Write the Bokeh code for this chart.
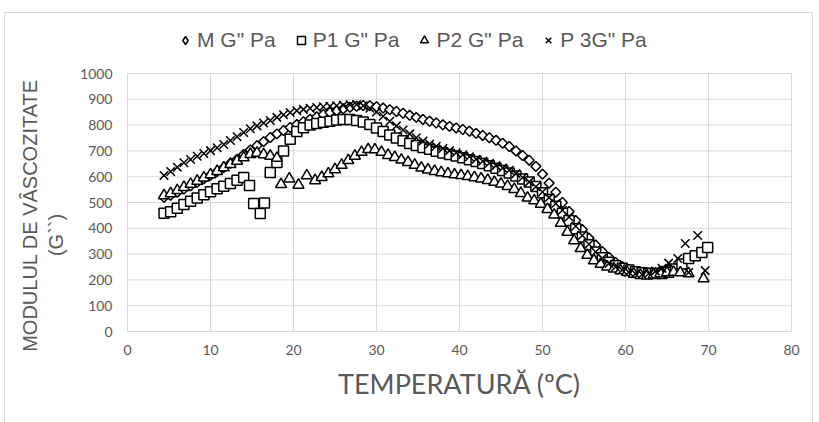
import math

from bokeh.embed import file_html
from bokeh.models import FixedTicker, Legend, LegendItem, Range1d
from bokeh.plotting import figure
from bokeh.resources import INLINE

# Loss modulus G" (Pa) against temperature (°C) for four samples
m_temp = [4.4, 5.2, 6.0, 6.8, 7.6, 8.4, 9.2, 10.0, 10.8, 11.6, 12.4, 13.2, 14.0, 14.8,
          15.6, 16.4, 17.2, 18.0, 18.8, 19.6, 20.4, 21.2, 22.0, 22.8, 23.6, 24.4, 25.2,
          26.0, 26.8, 27.6, 28.4, 29.2, 30.0, 30.8, 31.6, 32.4, 33.2, 34.0, 34.8, 35.6,
          36.4, 37.2, 38.0, 38.8, 39.6, 40.4, 41.2, 42.0, 42.8, 43.6, 44.4, 45.2, 46.0,
          46.8, 47.6, 48.4, 49.2, 50.0, 50.8, 51.6, 52.4, 53.2, 54.0, 54.8, 55.6, 56.4,
          57.2, 58.0, 58.8, 59.6, 60.4, 61.2, 62.0, 62.8, 63.6, 64.4, 65.2, 66.0]
m_g = [520, 528, 540, 552, 565, 578, 592, 606, 620, 636, 652, 668, 686, 704,
       720, 736, 752, 766, 779, 791, 802, 813, 823, 832, 841, 849, 856,
       863, 869, 873, 876, 875, 871, 866, 860, 853, 846, 838, 830, 822,
       815, 808, 801, 795, 789, 783, 776, 768, 760, 751, 741, 730, 717,
       700, 682, 664, 640, 610, 575, 540, 500, 465, 430, 395, 362, 335,
       310, 288, 268, 252, 240, 230, 224, 222, 228, 234, 240, 246]

p1_temp = [4.4, 5.2, 6.0, 6.8, 7.6, 8.4, 9.2, 10.0, 10.8, 11.6, 12.4, 13.2, 14.0, 14.7,
           15.2, 16.0, 16.5, 17.2, 18.0, 18.8, 19.6, 20.4, 21.2, 22.0, 22.8, 23.6, 24.4,
           25.2, 26.0, 26.8, 27.6, 28.4, 29.2, 30.0, 30.8, 31.6, 32.4, 33.2, 34.0, 34.8,
           35.6, 36.4, 37.2, 38.0, 38.8, 39.6, 40.4, 41.2, 42.0, 42.8, 43.6, 44.4, 45.2,
           46.0, 46.8, 47.6, 48.4, 49.2, 50.0, 50.8, 51.6, 52.4, 53.2, 54.0, 54.8, 55.6,
           56.4, 57.2, 58.0, 58.8, 59.6, 60.4, 61.2, 62.0, 62.8, 63.6, 64.4, 65.2, 66.0,
           66.8, 67.6, 68.4, 69.2, 69.9]
p1_g = [458, 464, 478, 492, 505, 517, 530, 542, 553, 563, 574, 586, 597, 566,
        496, 457, 498, 616, 655, 700, 745, 775, 790, 800, 806, 811, 815,
        820, 822, 822, 818, 812, 802, 789, 775, 762, 750, 739, 729, 721,
        713, 706, 699, 692, 686, 680, 673, 666, 659, 651, 642, 633, 624,
        614, 603, 591, 579, 562, 538, 512, 485, 458, 430, 398, 366, 336,
        308, 286, 268, 255, 245, 238, 232, 228, 226, 225, 225, 230, 242,
        262, 283, 294, 306, 326]

p2_temp = [4.4, 5.2, 6.0, 6.8, 7.6, 8.4, 9.2, 10.0, 10.8, 11.6, 12.4, 13.2, 14.0, 14.8,
           15.6, 16.4, 17.2, 18.0, 18.5, 19.5, 20.6, 21.6, 22.6, 23.4, 24.2, 25.0, 25.8,
           26.6, 27.4, 28.2, 29.0, 29.8, 30.6, 31.4, 32.2, 33.0, 33.8, 34.6, 35.4, 36.2,
           37.0, 37.8, 38.6, 39.4, 40.2, 41.0, 41.8, 42.6, 43.4, 44.2, 45.0, 45.8, 46.6,
           47.4, 48.2, 49.0, 49.8, 50.6, 51.4, 52.2, 53.0, 53.8, 54.6, 55.4, 56.2, 57.0,
           57.8, 58.6, 59.4, 60.2, 61.0, 61.8, 62.6, 63.4, 64.2, 65.0, 65.8, 66.6, 67.6,
           69.4]
p2_g = [527, 535, 547, 559, 571, 583, 596, 608, 621, 635, 648, 661, 674, 687,
        692, 686, 680, 672, 570, 592, 568, 604, 585, 598, 612, 628, 645,
        663, 680, 695, 706, 705, 695, 683, 675, 665, 656, 645, 634, 627,
        621, 616, 612, 608, 605, 601, 597, 592, 586, 579, 572, 563, 551,
        536, 518, 507, 494, 474, 452, 420, 385, 352, 322, 296, 275, 261,
        251, 243, 236, 229, 223, 218, 216, 220, 225, 228, 230, 228, 225,
        205]

p3_temp = [4.4, 5.2, 6.0, 6.8, 7.6, 8.4, 9.2, 10.0, 10.8, 11.6, 12.4, 13.2, 14.0, 14.8,
           15.6, 16.4, 17.2, 18.0, 18.8, 19.6, 20.4, 21.2, 22.0, 22.8, 23.6, 24.4, 25.2,
           26.0, 26.8, 27.6, 28.4, 29.2, 30.0, 30.8, 31.6, 32.4, 33.2, 34.0, 34.8, 35.6,
           36.4, 37.2, 38.0, 38.8, 39.6, 40.4, 41.2, 42.0, 42.8, 43.6, 44.4, 45.2, 46.0,
           46.8, 47.6, 48.4, 49.2, 50.0, 50.8, 51.6, 52.4, 53.2, 54.0, 54.8, 55.6, 56.4,
           57.2, 58.0, 58.8, 59.6, 60.4, 61.2, 62.0, 62.8, 63.6, 64.4, 65.2, 66.3, 67.2,
           67.6, 68.7, 69.6]
p3_g = [605, 620, 637, 654, 667, 679, 690, 701, 712, 725, 740, 755, 771, 786,
        797, 808, 818, 830, 840, 849, 856, 861, 865, 868, 871, 873, 875,
        877, 879, 880, 875, 865, 851, 834, 815, 797, 781, 766, 751, 738,
        727, 718, 709, 701, 693, 685, 677, 668, 660, 652, 643, 634, 625,
        612, 597, 580, 561, 541, 519, 496, 470, 444, 408, 372, 338, 308,
        284, 264, 250, 238, 230, 224, 221, 225, 234, 245, 265, 283, 341,
        229, 372, 236]

series_labels = ['M G" Pa', 'P1 G" Pa', 'P2 G" Pa', 'P 3G" Pa']
x_ticks = [0, 10, 20, 30, 40, 50, 60, 70, 80]
y_ticks = [0, 100, 200, 300, 400, 500, 600, 700, 800, 900, 1000]
x_axis_max = 80
y_axis_max = 1000

TEXT = "#595959"
GRID = "#d9d9d9"

# The frame is larger than the plotting area: it covers the legend band above, the
# axis band below and a small margin at each side, so that everything drawn inside it
# stays visible.  Scale: 664 px per 80 °C, 258 px per 1000 Pa, origin at (127, 331).
px_x = 664 / x_axis_max
px_y = 258 / y_axis_max
p = figure(width=819, height=422, output_backend="svg", toolbar_location=None,
           x_range=Range1d(-12 / px_x, x_axis_max + 12 / px_x),
           y_range=Range1d(-79 / px_y, 311 / px_y),
           min_border_left=115, min_border_right=16,
           min_border_top=20, min_border_bottom=12)
p.outline_line_color = None
p.background_fill_color = "white"
p.border_fill_alpha = 0

# thin grey frame round the whole chart area, painted behind the canvas
line_img = f"linear-gradient({GRID}, {GRID})"
p.styles = {
    "background-color": "white",
    "background-image": ", ".join([line_img] * 3),
    "background-size": "1px 412px, 809px 1px, 1px 412px",
    "background-position": "4px 12px, 4px 12px, 812px 12px",
    "background-repeat": "no-repeat",
}

# grid lines, limited to the 0..80 x 0..1000 plotting area
p.xgrid.visible = False
p.ygrid.visible = False
p.segment(x0=x_ticks, y0=[0] * len(x_ticks), x1=x_ticks,
          y1=[y_axis_max] * len(x_ticks), line_color=GRID, line_width=1)
p.segment(x0=[0] * len(y_ticks), y0=y_ticks, x1=[x_axis_max] * len(y_ticks),
          y1=y_ticks, line_color=GRID, line_width=1)

p.xaxis.ticker = FixedTicker(ticks=x_ticks)
p.xaxis.fixed_location = 0
p.xaxis.bounds = (0, x_axis_max)
p.yaxis.ticker = FixedTicker(ticks=y_ticks)
p.yaxis.bounds = (0, y_axis_max)

for ax in (p.xaxis, p.yaxis):
    ax.major_tick_in = 0
    ax.major_tick_out = 0
    ax.minor_tick_in = 0
    ax.minor_tick_out = 0
    ax.major_label_text_color = TEXT
    ax.major_label_text_font = "Lato"
    ax.major_label_text_font_size = "14px"
    ax.axis_label_text_color = TEXT
    ax.axis_label_text_font_style = "normal"
p.xaxis.axis_line_color = GRID
p.yaxis.axis_line_color = None
p.xaxis.major_label_standoff = 13
p.yaxis.major_label_standoff = 3

p.xaxis.axis_label = "TEMPERATURĂ (ºC)"
p.xaxis.axis_label_text_font = "Lato"
p.xaxis.axis_label_text_font_size = "27px"
p.xaxis.axis_label_standoff = 9

p.yaxis.axis_label = "MODULUL DE VÂSCOZITATE\n(G``)" + "\u00a0" * 7
p.yaxis.axis_label_text_font = "Liberation Sans"
p.yaxis.axis_label_text_font_size = "20px"
p.yaxis.axis_label_standoff = 10

# data series, drawn in series order so the later ones sit on top
common = dict(fill_color="white", line_color="black", line_width=1.5)
r_m = p.scatter(m_temp, m_g, marker="square", angle=math.pi / 4, size=7, **common)
r_p1 = p.scatter(p1_temp, p1_g, marker="square", size=10, **common)
r_p2 = p.scatter(p2_temp, p2_g, marker="triangle", size=11, **common)
r_p3 = p.scatter(p3_temp, p3_g, marker="x", size=12, line_color="black", line_width=1.5)

# legend key for the M series (the data marker is a rotated square); its single
# point is NaN so it only shows in the legend
m_key = p.scatter([float("nan")], [float("nan")], marker="diamond", size=7, **common)

legend = Legend(
    items=[LegendItem(label=lbl, renderers=[r])
           for lbl, r in zip(series_labels, (m_key, r_p1, r_p2, r_p3))],
    orientation="horizontal", location=(60, 358),
    glyph_width=20, glyph_height=20, label_standoff=2, spacing=15,
    padding=0, margin=0, border_line_color=None, background_fill_alpha=0,
    label_text_font="Liberation Sans", label_text_font_size="21px",
    label_text_color=TEXT,
)
p.add_layout(legend)

open("out.html", "w").write(file_html(p, INLINE))
